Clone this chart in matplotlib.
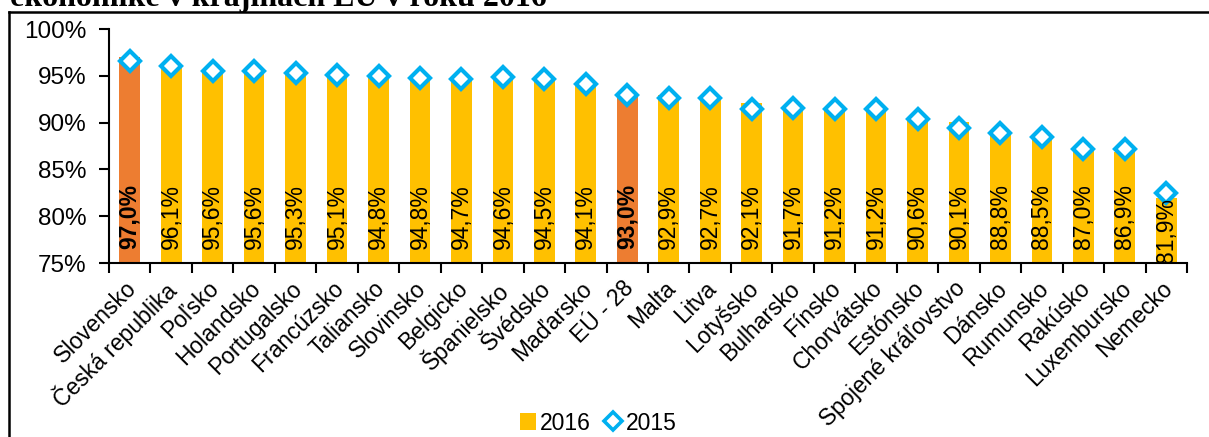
import matplotlib
matplotlib.use("Agg")
from matplotlib import pyplot as plt
from matplotlib.lines import Line2D
from matplotlib.patches import Patch
import matplotlib.transforms as mtrans
import numpy as np

plt.rcParams['font.family'] = ['Liberation Sans', 'DejaVu Sans']

countries = ['Slovensko', 'Česká republika', 'Poľsko', 'Holandsko', 'Portugalsko',
             'Francúzsko', 'Taliansko', 'Slovinsko', 'Belgicko', 'Španielsko',
             'Švédsko', 'Maďarsko', 'EÚ - 28', 'Malta', 'Litva', 'Lotyšsko',
             'Bulharsko', 'Fínsko', 'Chorvátsko', 'Estónsko', 'Spojené kráľovstvo',
             'Dánsko', 'Rumunsko', 'Rakúsko', 'Luxembursko', 'Nemecko']
val_2016 = [97.0, 96.1, 95.6, 95.6, 95.3, 95.1, 94.8, 94.8, 94.7, 94.6, 94.5, 94.1,
            93.0, 92.9, 92.7, 92.1, 91.7, 91.2, 91.2, 90.6, 90.1, 88.8, 88.5, 87.0,
            86.9, 81.9]
val_2015 = [96.6, 96.0, 95.5, 95.5, 95.3, 95.1, 95.0, 94.8, 94.7, 94.9, 94.7, 94.1,
            92.9, 92.6, 92.6, 91.5, 91.6, 91.5, 91.5, 90.4, 89.4, 88.9, 88.5, 87.2,
            87.2, 82.5]
highlight = ['Slovensko', 'EÚ - 28']

YELLOW = '#FFC000'
ORANGE = '#ED7D31'
BLUE = '#00B0F0'

fig = plt.figure(figsize=(12.09, 4.37), dpi=100)
ax = fig.add_axes([109/1209, 1-263/437, (1187-109)/1209, (263-29)/437])

x = np.arange(len(countries))
colors = [ORANGE if c in highlight else YELLOW for c in countries]
ax.bar(x, [v - 75 for v in val_2016], bottom=75, width=0.5, color=colors)
ax.plot(x, val_2015, linestyle='none', marker='D', markersize=10.5, markerfacecolor='white',
        markeredgecolor=BLUE, markeredgewidth=3, zorder=3)

# value labels inside bars
for xi, v, c in zip(x, val_2016, countries):
    txt = f"{v:.1f}%".replace('.', ',')
    weight = 'bold' if c in highlight else 'normal'
    if v - 75 < 7.8:
        ax.text(xi, v, txt, rotation=90, ha='center', va='top', fontsize=16.5, fontweight=weight)
    else:
        ax.text(xi, 76.5, txt, rotation=90, ha='center', va='bottom', fontsize=16.5, fontweight=weight)

ax.set_xlim(-0.5, len(countries) - 0.5)
ax.set_ylim(75, 100)
ax.set_yticks(np.arange(75, 101, 5))
ax.set_yticklabels([f"{t}%" for t in range(75, 101, 5)])
ax.tick_params(axis='y', labelsize=17.5, length=7, width=1.5, pad=9)

ax.set_xticks(x)
ax.set_xticklabels(countries, rotation=45, ha='right', va='top', fontsize=16.5)
ax.set_xticks(np.arange(-0.5, len(countries), 1), minor=True)
ax.tick_params(axis='x', which='major', length=0, pad=10)
ax.tick_params(axis='x', which='minor', length=7, width=1.5)
offset = mtrans.ScaledTranslation(8/72, 0, fig.dpi_scale_trans)
for lbl in ax.get_xticklabels():
    lbl.set_transform(lbl.get_transform() + offset)

for s in ['top', 'right']:
    ax.spines[s].set_visible(False)
for s in ['left', 'bottom']:
    ax.spines[s].set_linewidth(1.5)

handles = [Patch(facecolor=YELLOW, edgecolor='none', label='2016'),
           Line2D([], [], linestyle='none', marker='D', markersize=9, markerfacecolor='white',
                  markeredgecolor=BLUE, markeredgewidth=2.6, label='2015')]
ax.legend(handles=handles, loc='center', bbox_to_anchor=(598/1209, 14/437),
          bbox_transform=fig.transFigure, ncol=2, frameon=False, fontsize=16.5,
          handlelength=0.7, handletextpad=0.2, columnspacing=0.6, handleheight=0.7)

# outer frame (cut by the image edge)
fig.add_artist(Line2D([9/1209, 1.0], [1-11.5/437, 1-11.5/437], color='black', lw=1.8,
                      transform=fig.transFigure))
fig.add_artist(Line2D([9/1209, 9/1209], [0, 1-11.5/437], color='black', lw=1.8,
                      transform=fig.transFigure))

# title cut off at top of image
fig.text(10/1209, 1-6/437, 'ekonomike v krajinách EÚ v roku 2016', fontsize=23,
         fontweight='bold', family=['Liberation Serif', 'DejaVu Serif'], va='baseline', ha='left')

fig.savefig('out.png', dpi=100)
